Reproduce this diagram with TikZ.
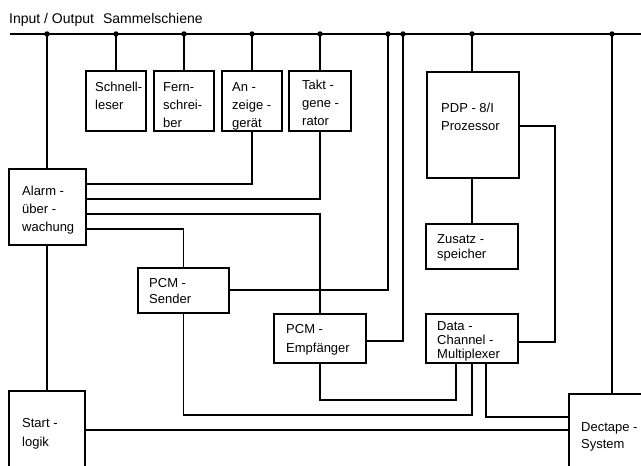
\documentclass[tikz,border=0pt]{standalone}
\usepackage{fontspec}
\setmainfont{Liberation Sans}
\usetikzlibrary{fit}
\tikzset{
  box/.style={draw, line width=1.6pt, inner sep=0pt},
  wire/.style={line width=1.5pt},
  lbl/.style={anchor=base west, inner sep=0pt, align=left, font=\fontsize{13}{#1}\selectfont},
  lbl/.default=18,
  ttl/.style={anchor=base west, inner sep=0pt, font=\fontsize{14}{16}\selectfont},
  busdot/.style={circle, fill, inner sep=0pt, minimum size=5.5pt},
}
\begin{document}
\begin{tikzpicture}[x=1pt,y=-1pt]
\useasboundingbox (0,0) rectangle (641,466);
\clip (0,0) rectangle (641,466);
% bus
\coordinate (bl) at (10,34);
\coordinate (br) at (645,34);
\coordinate (b1) at (47,34);
\coordinate (b2) at (116,34);
\coordinate (b3) at (184,34);
\coordinate (b4) at (252,34);
\coordinate (b5) at (320,34);
\coordinate (b6) at (388,34);
\coordinate (b7) at (403,34);
\coordinate (b8) at (472,34);
\coordinate (b9) at (612,34);
% boxes
\node[box, fit={(86,71) (146,131)}] (schnell) {};
\node[box, fit={(154,71) (214,131)}] (fern) {};
\node[box, fit={(222,71) (282,131)}] (anz) {};
\node[box, fit={(289,71) (351,131)}] (takt) {};
\node[box, fit={(9,169) (86,245)}] (alarm) {};
\node[box, fit={(138,268) (229,313)}] (pcms) {};
\node[box, fit={(274,314) (366,363)}] (pcme) {};
\node[box, fit={(426,314) (518,363)}] (dcm) {};
\node[box, fit={(427,72) (519,178)}] (pdp) {};
\node[box, fit={(426,224) (518,269)}] (zus) {};
\node[box, fit={(9,391) (85,470)}] (start) {};
\node[box, fit={(569,394) (670,470)}] (dect) {};
% wires
\draw[wire] (bl) -- (br);
\draw[wire] (b1) -- (b1 |- alarm.north);
\draw[wire] (alarm.south -| b1) -- (start.north -| b1);
\draw[wire] (b2) -- (schnell.north);
\draw[wire] (b3) -- (fern.north);
\draw[wire] (b4) -- (anz.north);
\draw[wire] (b5) -- (takt.north);
\draw[wire] (anz.south) |- (alarm.east |- 0,184);
\draw[wire] (takt.south) |- (alarm.east |- 0,199);
\draw[wire] (alarm.east |- 0,214) -| (pcme.north);
\draw[wire] (alarm.east |- 0,229) -| (pcms.north);
\draw[wire] (pcms.east |- 0,290) -| (b6);
\draw[wire] (pcme.east |- 0,341) -| (b7);
\draw[wire] (b8) -- (b8 |- pdp.north);
\draw[wire] (zus.north |- pdp.south) -- (zus.north);
\draw[wire] (pdp.east |- 0,126) -- (555,126) -- (555,342) -- (dcm.east |- 0,342);
\draw[wire] (pcms.south) |- (dcm.south |- 0,415) -- (dcm.south);
\draw[wire] ([xshift=-16pt]dcm.south) |- (pcme.south |- 0,400) -- (pcme.south);
\draw[wire] ([xshift=14pt]dcm.south) |- (dect.west |- 0,417);
\draw[wire] (start.east |- 0,430) -- (dect.west |- 0,430);
\draw[wire] (b9) -- (b9 |- dect.north);
% bus dots
\node[busdot] (d1) at (b1) {};
\node[busdot] (d2) at (b2) {};
\node[busdot] (d3) at (b3) {};
\node[busdot] (d4) at (b4) {};
\node[busdot] (d5) at (b5) {};
\node[busdot] (d6) at (b6) {};
\node[busdot] (d7) at (b7) {};
\node[busdot] (d8) at (b8) {};
\node[busdot] (d9) at (b9) {};
% labels (anchored at the baseline of the last line)
\node[ttl] (title) at (9,23) {Input / Output\hspace{9pt}Sammelschiene};
\node[lbl] (tschnell) at (95,109) {Schnell-\\leser};
\node[lbl] (tfern) at (163,127) {Fern-\\schrei-\\ber};
\node[lbl] (tanz) at (232,127) {An -\\zeige -\\gerät};
\node[lbl] (ttakt) at (302,125) {Takt -\\gene -\\rator};
\node[lbl] (talarm) at (22,231) {Alarm -\\über -\\wachung};
\node[lbl=16] (tpcms) at (149,303) {PCM -\\Sender};
\node[lbl=19] (tpcme) at (286,352) {PCM -\\Empfänger};
\node[lbl=14] (tdcm) at (437,358) {Data -\\Channel -\\Multiplexer};
\node[lbl] (tpdp) at (441,130) {PDP - 8/I\\Prozessor};
\node[lbl=15.5] (tzus) at (437,258.5) {Zusatz -\\speicher};
\node[lbl=19] (tstart) at (22,446) {Start -\\logik};
\node[lbl=17.5] (tdect) at (581,448.5) {Dectape -\\System};
\end{tikzpicture}
\end{document}
